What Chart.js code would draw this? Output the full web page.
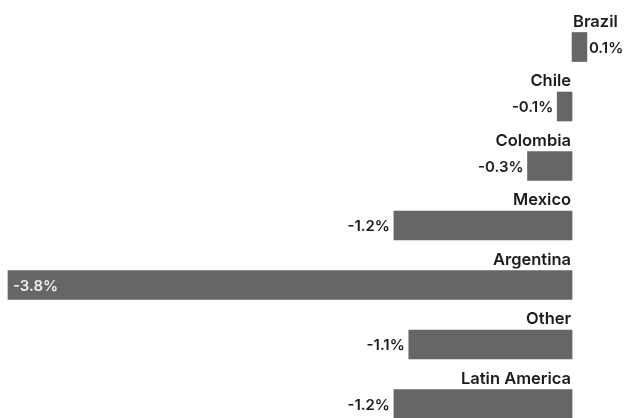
<!DOCTYPE html>
<html>
<head>
<meta charset="utf-8">
<script src="https://cdn.jsdelivr.net/npm/chart.js@4/dist/chart.umd.min.js"></script>
<style>
  html, body { margin: 0; padding: 0; background: #fff; }
  #wrap { width: 628px; height: 418px; }
</style>
</head>
<body>
<div id="wrap"><canvas id="chart"></canvas></div>
<script>
// data
const countries = ["Brazil", "Chile", "Colombia", "Mexico", "Argentina", "Other", "Latin America"];
const change = [0.1, -0.1, -0.3, -1.2, -3.8, -1.1, -1.2];

const BAR = "#666666";
const INK = "#1c1c1c";
const FONT = "Inter, 'Noto Sans', sans-serif";

// category names above the bars, values beside them
const labelPlugin = {
  id: "labels",
  afterDatasetsDraw(chart) {
    const ctx = chart.ctx;
    const meta = chart.getDatasetMeta(0);
    const zero = chart.scales.x.getPixelForValue(0);
    ctx.save();
    meta.data.forEach((bar, i) => {
      const v = change[i];
      const top = bar.y - bar.height / 2;

      ctx.font = "600 16.5px " + FONT;
      ctx.fillStyle = INK;
      ctx.textBaseline = "alphabetic";
      ctx.textAlign = v >= 0 ? "left" : "right";
      ctx.fillText(countries[i], v >= 0 ? zero + 1 : zero - 1, top - 6);

      const txt = v.toFixed(1) + "%";
      ctx.font = "600 15px " + FONT;
      ctx.textBaseline = "middle";
      if (v >= 0) {
        ctx.textAlign = "left";
        ctx.fillText(txt, bar.x + 2, bar.y + 1);
      } else if (zero - bar.x > 400) {
        ctx.fillStyle = "#eeeeee";
        ctx.textAlign = "left";
        ctx.fillText(txt, bar.x + 5, bar.y + 1);
      } else {
        ctx.textAlign = "right";
        ctx.fillText(txt, bar.x - 4, bar.y + 1);
      }
    });
    ctx.restore();
  }
};

new Chart(document.getElementById("chart"), {
  type: "bar",
  data: {
    labels: countries,
    datasets: [{
      data: change,
      backgroundColor: BAR,
      borderWidth: 0,
      barThickness: 29,
      clip: false
    }]
  },
  options: {
    indexAxis: "y",
    responsive: true,
    maintainAspectRatio: false,
    animation: false,
    layout: { padding: { left: 8, right: 0, top: 47, bottom: 14 } },
    plugins: { legend: { display: false }, tooltip: { enabled: false } },
    scales: {
      x: { display: false, min: -3.8, max: 0.377 },
      y: { display: false, offset: false }
    }
  },
  plugins: [labelPlugin]
});
</script>
</body>
</html>
